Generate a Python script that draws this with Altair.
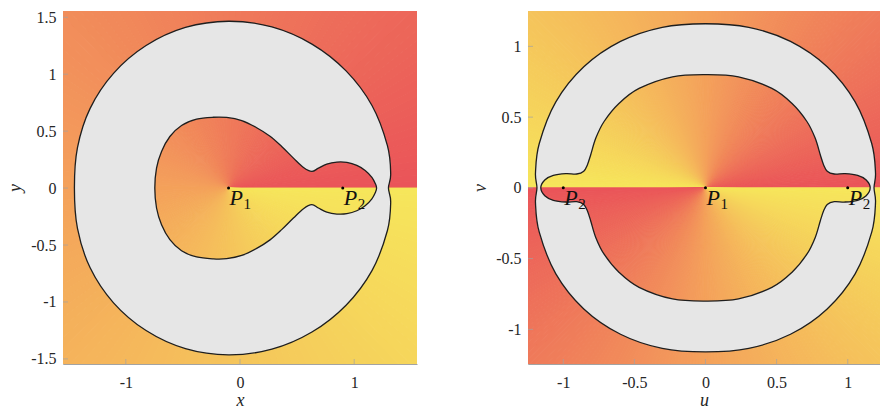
import math

import altair as alt
import pandas as pd

# ---------------------------------------------------------------- styling
ARG_STOPS = [0.0, 0.5, 1.0]                       # normalised argument
ARG_COLORS = ["#ea5459", "#f4a15b", "#f6e65b"]    # red -> orange -> yellow
GRAY = "#e6e6e6"
EDGE = "#1e1e1e"
AXIS_GRAY = "#a3a3a3"
TEXT = "#262626"
SERIF = "Liberation Serif, Times New Roman, serif"

# ---------------------------------------------------------------- z-plane (left)
Z_X_DOMAIN = [-1.55, 1.55]
Z_Y_DOMAIN = [-1.545, 1.555]
Z_XTICKS = [-1, 0, 1]
Z_YTICKS = [-1.5, -1, -0.5, 0, 0.5, 1, 1.5]
Z_PTS_X = [-0.1, 0.9]
Z_PTS_SUB = ["1", "2"]
Z_CENTER = -0.1                       # argument is measured about P1

# outer boundary, polar about P1 (upper half, mirrored below)
Z_OUTER_ANGLE = [0, 5, 15, 30, 45, 60, 75, 90, 105, 120, 135, 150, 165, 180]
Z_OUTER_RADIUS = [1.40, 1.425, 1.44, 1.45, 1.455, 1.46, 1.465, 1.465, 1.46,
                  1.445, 1.425, 1.40, 1.37, 1.35]

# inner boundary, upper half from the left end to the right end
Z_INNER_X = [-0.746, -0.731, -0.687, -0.614, -0.512, -0.380, -0.234, -0.117,
             0.015, 0.146, 0.263, 0.365, 0.468, 0.556, 0.629, 0.687, 0.760,
             0.848, 0.936, 1.023, 1.096, 1.155, 1.187, 1.196]
Z_INNER_Y = [0.0, 0.175, 0.322, 0.453, 0.550, 0.605, 0.622, 0.620, 0.592,
             0.530, 0.455, 0.365, 0.263, 0.181, 0.146, 0.175, 0.211, 0.228,
             0.225, 0.199, 0.155, 0.094, 0.035, 0.0]

# ---------------------------------------------------------------- w-plane (right)
W_U_DOMAIN = [-1.248, 1.227]
W_V_DOMAIN = [-1.245, 1.25]
W_TICKS = [-1, -0.5, 0, 0.5, 1]
W_PTS_U = [0, -1, 1]
W_PTS_SUB = ["1", "2", "2"]

# outer boundary, polar about the origin (first quadrant, mirrored)
W_OUTER_ANGLE = [0, 5, 15, 30, 45, 60, 75, 90]
W_OUTER_RADIUS = [1.185, 1.20, 1.21, 1.215, 1.21, 1.195, 1.175, 1.16]

# inner boundary, first quadrant from the top to the right end
W_INNER_U = [0.0, 0.232, 0.467, 0.607, 0.713, 0.771, 0.807, 0.830, 0.856,
             0.905, 0.982, 1.070, 1.130, 1.158]
W_INNER_V = [0.80, 0.785, 0.703, 0.598, 0.469, 0.352, 0.234, 0.164, 0.118,
             0.098, 0.100, 0.088, 0.056, 0.0]

WEDGE_STEP_Z = 2
WEDGE_STEP_W = 1


def wedges(cx, step, factor):
    """Thin sectors about (cx, 0) coloured by factor * argument (mod 2 pi)."""
    rows = []
    for a in range(0, 360, step):
        b = a + step
        mid = a + step / 2
        rows.append(dict(cx=cx, cy=0.0,
                         t0=math.radians(90 - b), t1=math.radians(90 - a),
                         c=((factor * mid) % 360) / 360))
    return pd.DataFrame(rows)


# ---- z-plane curves
def z_outer_points():
    lookup = dict(zip(Z_OUTER_ANGLE, Z_OUTER_RADIUS))
    upper = sorted(Z_OUTER_ANGLE, reverse=True)             # 180 .. 0
    lower = sorted(Z_OUTER_ANGLE)[1:-1]                     # 5 .. 165 mirrored
    pts = []
    for a in upper:
        r = lookup[a]
        pts.append((Z_CENTER + r * math.cos(math.radians(a)), r * math.sin(math.radians(a))))
    for a in lower:
        r = lookup[a]
        pts.append((Z_CENTER + r * math.cos(math.radians(a)), -r * math.sin(math.radians(a))))
    return pts


def z_inner_points():
    upper = list(zip(Z_INNER_X, Z_INNER_Y))
    pts = [(x, -y) for x, y in upper]
    pts += upper[-2:0:-1]
    return pts


# ---- w-plane curves
def fold(a):
    t = abs(a)
    return 180 - t if t > 90 else t


def w_outer_points():
    lookup = dict(zip(W_OUTER_ANGLE, W_OUTER_RADIUS))
    q = W_OUTER_ANGLE
    seq = ([180 - a for a in q] + [a for a in reversed(q[:-1])]
           + [-a for a in q[1:]] + [-(180 - a) for a in reversed(q[1:-1])])
    pts = []
    for a in seq:
        r = lookup[fold(a)]
        pts.append((r * math.cos(math.radians(a)), r * math.sin(math.radians(a))))
    return pts


def w_inner_points():
    q = list(zip(W_INNER_U, W_INNER_V))
    pts = [(-u, -v) for u, v in reversed(q)]          # left end -> bottom
    pts += [(u, -v) for u, v in q[1:]]                # bottom -> right end
    pts += [(u, v) for u, v in reversed(q[:-1])]      # right end -> top
    pts += [(-u, v) for u, v in q[1:-1]]              # top -> left end
    return pts


def annulus_frame(outer, inner):
    """Outer ring (clockwise) and inner ring (counter-clockwise) in one path.

    An empty row between them splits the path into two closed sub-paths, so
    the non-zero fill leaves the inner region open.
    """
    pts = outer + [(None, None)] + inner
    return pd.DataFrame({"x": [p[0] for p in pts],
                         "y": [p[1] for p in pts],
                         "i": list(range(len(pts)))})


def panel(wedge_df, outer, inner, pts_df, xdom, ydom, xticks, yticks,
          xtitle, ytitle, width, height):
    cscale = alt.Scale(domain=ARG_STOPS, range=ARG_COLORS, interpolate="rgb")
    xs = alt.Scale(domain=xdom, nice=False, zero=False)
    ys = alt.Scale(domain=ydom, nice=False, zero=False)
    common = dict(labelFont=SERIF, labelFontSize=16, labelColor=TEXT,
                  labelExpr="'' + datum.value", labelFlush=False,
                  labelOverlap=False, ticks=False, grid=False,
                  domainColor=AXIS_GRAY, domainWidth=1,
                  titleFont=SERIF, titleFontSize=18, titleFontStyle="italic",
                  titleFontWeight="normal", titleColor=TEXT)
    xa = alt.Axis(values=xticks, title=xtitle, labelPadding=10,
                  titleY=41, titleBaseline="alphabetic", **common)
    ya = alt.Axis(values=yticks, title=ytitle, labelPadding=7,
                  titleX=-48, titleAlign="center", titleBaseline="middle",
                  **common)

    def X(f):
        return alt.X(f, type="quantitative", scale=xs, axis=xa)

    def Y(f):
        return alt.Y(f, type="quantitative", scale=ys, axis=ya)

    back = alt.Chart(wedge_df).mark_arc(radius=700, clip=True, strokeWidth=1).encode(
        x=X("cx"), y=Y("cy"),
        theta=alt.Theta("t0:Q", scale=None, stack=False),
        theta2=alt.Theta2("t1"),
        color=alt.Color("c:Q", scale=cscale, legend=None),
        stroke=alt.Stroke("c:Q", scale=cscale, legend=None),
    )

    ring = alt.Chart(annulus_frame(outer, inner)).mark_line(
        interpolate="cardinal-closed", filled=True, fill=GRAY, stroke=EDGE,
        strokeWidth=1.3, clip=True,
    ).encode(x=X("x"), y=Y("y"), order="i:Q")

    dots = alt.Chart(pts_df).mark_circle(size=9, color="black", opacity=1).encode(
        x=X("px"), y=Y("py"))
    p_text = alt.Chart(pts_df).mark_text(
        text="P", align="left", baseline="alphabetic", dx=1, dy=17,
        font=SERIF, fontStyle="italic", fontSize=22, color="#111111",
    ).encode(x=X("px"), y=Y("py"))
    sub_text = alt.Chart(pts_df).mark_text(
        align="left", baseline="alphabetic", dx=15, dy=21,
        font=SERIF, fontSize=15, color="#111111",
    ).encode(x=X("px"), y=Y("py"), text="sub:N")

    ytick = alt.Chart(pd.DataFrame({"t": yticks})).mark_tick(
        orient="horizontal", size=5, thickness=1, color=AXIS_GRAY,
    ).encode(y=Y("t"), x=alt.value(2.5))
    xtick = alt.Chart(pd.DataFrame({"t": xticks})).mark_tick(
        orient="vertical", size=5, thickness=1, color=AXIS_GRAY,
    ).encode(x=X("t"), y=alt.value(height - 2.5))

    return alt.layer(back, ring, ytick, xtick, dots, p_text, sub_text).properties(
        width=width, height=height)


z_pts = pd.DataFrame({"px": Z_PTS_X, "py": [0.0] * len(Z_PTS_X), "sub": Z_PTS_SUB})
w_pts = pd.DataFrame({"px": W_PTS_U, "py": [0.0] * len(W_PTS_U), "sub": W_PTS_SUB})

left = panel(wedges(Z_CENTER, WEDGE_STEP_Z, 1), z_outer_points(), z_inner_points(),
             z_pts, Z_X_DOMAIN, Z_Y_DOMAIN, Z_XTICKS, Z_YTICKS, "x", "y", 354, 353)
right = panel(wedges(0.0, WEDGE_STEP_W, 2), w_outer_points(), w_inner_points(),
              w_pts, W_U_DOMAIN, W_V_DOMAIN, W_TICKS, W_TICKS, "u", "v", 352, 353)

chart = alt.hconcat(left, right, spacing=54).properties(
    padding={"left": 6, "top": 9, "right": 0, "bottom": 0},
    background="white",
).configure_view(strokeWidth=0)

chart.save("out.html", embed_options={"renderer": "svg", "actions": False})
